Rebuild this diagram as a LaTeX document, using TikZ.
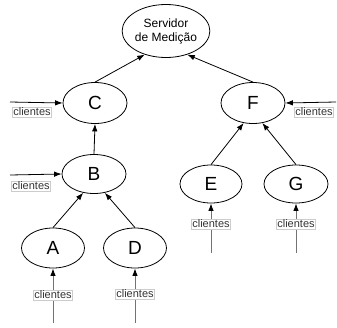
\documentclass[tikz,border=0pt]{standalone}
\usepackage{fontspec}
\setmainfont{Liberation Sans}
\usetikzlibrary{arrows.meta,shapes.geometric}
\begin{document}
\begin{tikzpicture}[x=1pt,y=-1pt,
  site/.style={draw, ellipse, line width=0.8pt, minimum width=64pt, minimum height=41pt, inner sep=0pt, font=\fontsize{19}{19}\selectfont},
  link/.style={draw, line width=0.8pt, -{Latex[length=7.5pt,width=5.5pt]}},
  feed/.style={draw=black!55, line width=0.9pt, -{Latex[length=7.5pt,width=5.5pt,black]}},
  tag/.style={draw=black!20, fill=white, inner sep=1pt, font=\fontsize{11}{11}\selectfont, text=black!80}]
\useasboundingbox (0,0) rectangle (337,327);
% measurement server
\node[site, minimum width=83pt, minimum height=53pt, font=\fontsize{12}{14}\selectfont, align=center] (srv) at (166,31) {Servidor\\de Medição};
% nodes
\node[site] (C) at (95,103) {C};
\node[site] (F) at (253,103) {F};
\node[site, minimum height=39pt] (B) at (94,174) {B};
\node[site, minimum width=62pt, minimum height=38pt] (E) at (211,184) {E};
\node[site, minimum width=64pt, minimum height=38pt] (G) at (296,184) {G};
\node[site, minimum width=63pt, minimum height=40pt] (A) at (53,248) {A};
\node[site, minimum width=63pt, minimum height=40pt] (D) at (135,248) {D};
% tree links
\draw[link] (C.north) -- (srv.228);
\draw[link] (F.north) -- (srv.312);
\draw[link] (B.north) -- (C.south);
\draw[link] (A.north) -- (B.240);
\draw[link] (D.north) -- (B.300);
\draw[link] (E.north) -- (F.245);
\draw[link] (G.north) -- (F.295);
% client inputs
\coordinate (cC) at (10,102);
\coordinate (cF) at (336,102);
\coordinate (cB) at (10,175);
\coordinate (cE) at (211,253);
\coordinate (cG) at (296,253);
\coordinate (cA) at (53,323);
\coordinate (cD) at (135,323);
\draw[link] (cC) -- (C.west);
\draw[link] (cF) -- (F.east);
\draw[link] (cB) -- (B.west);
\draw[feed] (cE) -- (E.south);
\draw[feed] (cG) -- (G.south);
\draw[feed] (cA) -- (A.south);
\draw[feed] (cD) -- (D.south);
% client labels
\node[tag] (tC) at (32,112) {clientes};
\node[tag] (tF) at (314,112) {clientes};
\node[tag] (tB) at (31,186) {clientes};
\node[tag] (tE) at (211,224) {clientes};
\node[tag] (tG) at (296,224) {clientes};
\node[tag] (tA) at (53,295) {clientes};
\node[tag] (tD) at (135,294) {clientes};
\end{tikzpicture}
\end{document}
